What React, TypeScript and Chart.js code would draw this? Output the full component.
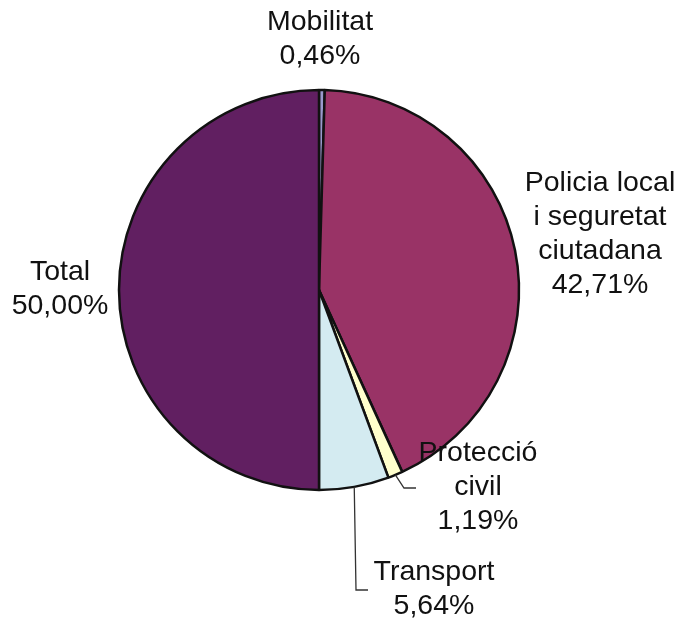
import React, { useEffect, useRef } from "react";
import { Chart, registerables } from "chart.js";

Chart.register(...registerables);

const categories = ["Mobilitat", "Policia local i seguretat ciutadana", "Protecció civil", "Transport", "Total"];
const values = [0.46, 42.71, 1.19, 5.64, 50.0];
const valueLabels = ["0,46%", "42,71%", "1,19%", "5,64%", "50,00%"];
const labelLines = [
  ["Mobilitat", "0,46%"],
  ["Policia local", "i seguretat", "ciutadana", "42,71%"],
  ["Protecció", "civil", "1,19%"],
  ["Transport", "5,64%"],
  ["Total", "50,00%"],
];
const colors = ["#9999CC", "#993366", "#FFFFCC", "#D4EBF1", "#611F61"];

// label layout (center x, first line center y) and optional leader line elbows
const labelPos = [
  { x: 320, y: 22 },
  { x: 600, y: 183 },
  { x: 478, y: 453 },
  { x: 434, y: 572 },
  { x: 60, y: 272 },
];
const leaders: (null | { elbow: [number, number]; end: [number, number] })[] = [
  null,
  null,
  { elbow: [404, 488], end: [416, 488] },
  { elbow: [356, 590], end: [368, 590] },
  null,
];

const FONT = '28.5px "Liberation Sans", Arial, sans-serif';
const LINE_H = 34;

const labelPlugin = {
  id: "pieLabels",
  afterDraw(chart: any) {
    const ctx = chart.ctx;
    const meta = chart.getDatasetMeta(0);
    ctx.save();
    ctx.strokeStyle = "#333";
    ctx.lineWidth = 1.3;
    meta.data.forEach((arc: any, i: number) => {
      const ld = leaders[i];
      if (!ld) return;
      const mid = (arc.startAngle + arc.endAngle) / 2;
      const sx = arc.x + Math.cos(mid) * arc.outerRadius;
      const sy = arc.y + Math.sin(mid) * arc.outerRadius;
      ctx.beginPath();
      ctx.moveTo(sx, sy);
      ctx.lineTo(ld.elbow[0], ld.elbow[1]);
      ctx.lineTo(ld.end[0], ld.end[1]);
      ctx.stroke();
    });
    ctx.font = FONT;
    ctx.fillStyle = "#111";
    ctx.textAlign = "center";
    ctx.textBaseline = "middle";
    labelLines.forEach((lines, i) => {
      const p = labelPos[i];
      lines.forEach((t, j) => ctx.fillText(t, p.x, p.y + j * LINE_H));
    });
    ctx.restore();
  },
};

export default function App() {
  const ref = useRef<HTMLCanvasElement>(null);
  useEffect(() => {
    if (!ref.current) return;
    const chart = new Chart(ref.current, {
      type: "pie",
      data: {
        labels: categories,
        datasets: [
          {
            data: values,
            backgroundColor: colors,
            borderColor: "#111",
            borderWidth: 2.5,
            borderAlign: "center",
          },
        ],
      },
      options: {
        animation: false,
        responsive: false,
        radius: 200,
        layout: { padding: { left: 100, right: 142, top: 80, bottom: 119 } },
        plugins: {
          legend: { display: false },
          tooltip: { enabled: false },
        },
      } as any,
      plugins: [labelPlugin],
    });
    return () => chart.destroy();
  }, []);
  return (
    <div style={{ position: "absolute", left: 0, top: 0, width: 680, height: 619, background: "#fff" }}>
      <canvas ref={ref} width={680} height={619} />
    </div>
  );
}
